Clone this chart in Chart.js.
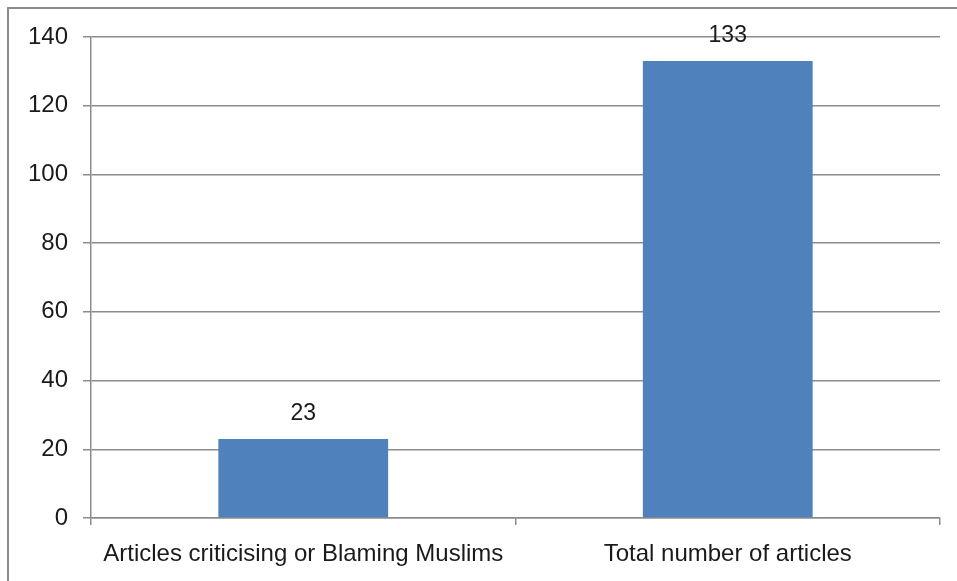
<!DOCTYPE html>
<html>
<head>
<meta charset="utf-8">
<script src="https://cdn.jsdelivr.net/npm/chart.js@4.4.0/dist/chart.umd.min.js"></script>
<style>
  html, body { margin: 0; padding: 0; background: #fff; overflow: hidden; }
  #wrap { position: relative; width: 957px; height: 581px; }
  #frame { position: absolute; left: 7px; top: 7px; width: 960px; height: 590px; border: 2px solid #8c8c8c; box-sizing: border-box; }
  canvas { position: absolute; left: 0; top: 0; }
</style>
</head>
<body>
<div id="wrap">
  <div id="frame"></div>
  <canvas id="chart" width="957" height="581"></canvas>
</div>
<script>
// Dados do gráfico
const categories = ['Articles criticising or Blaming Muslims', 'Total number of articles'];
const articleCounts = [23, 133];
const yTicks = [0, 20, 40, 60, 80, 100, 120, 140];

const fontFamily = "'Liberation Sans', Arial, sans-serif";
const gridColor = '#8c8c8c';

// Rótulos de valor acima das barras
const valueLabels = {
    id: 'valueLabels',
    afterDatasetsDraw(chart) {
        const ctx = chart.ctx;
        const meta = chart.getDatasetMeta(0);
        ctx.save();
        ctx.font = '23px ' + fontFamily;
        ctx.fillStyle = '#1a1a1a';
        ctx.textAlign = 'center';
        ctx.textBaseline = 'middle';
        meta.data.forEach((bar, i) => {
            ctx.fillText(String(articleCounts[i]), bar.x, bar.y - 25);
        });
        ctx.restore();
    }
};

new Chart(document.getElementById('chart'), {
    type: 'bar',
    data: {
        labels: categories,
        datasets: [{
            data: articleCounts,
            backgroundColor: '#4f81bd',
            borderWidth: 0,
            categoryPercentage: 1,
            barPercentage: 0.4
        }]
    },
    options: {
        responsive: false,
        animation: false,
        layout: { padding: { top: 37, right: 17, left: 0, bottom: 0 } },
        plugins: {
            legend: { display: false },
            tooltip: { enabled: false }
        },
        scales: {
            y: {
                min: 0,
                max: 140,
                afterFit(scale) { scale.width = 91; },
                afterBuildTicks(scale) { scale.ticks = yTicks.map(v => ({ value: v })); },
                border: { color: gridColor, width: 1.5 },
                grid: { color: gridColor, lineWidth: 1.5, tickLength: 8 },
                ticks: { color: '#1a1a1a', padding: 15, font: { family: fontFamily, size: 24 } }
            },
            x: {
                afterFit(scale) { scale.height = 63; },
                border: { color: gridColor, width: 1.5 },
                grid: { offset: true, drawOnChartArea: false, color: gridColor, lineWidth: 1.5, tickLength: 7 },
                ticks: { color: '#1a1a1a', padding: 15, maxRotation: 0, font: { family: fontFamily, size: 24 } }
            }
        }
    },
    plugins: [valueLabels]
});
</script>
</body>
</html>
